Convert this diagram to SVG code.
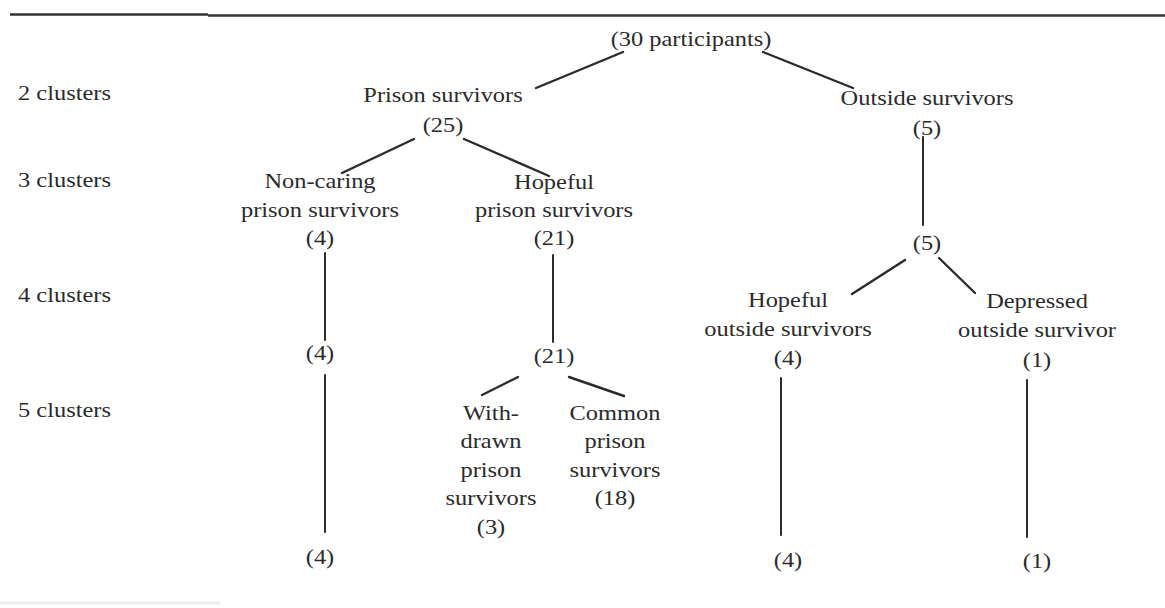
<svg xmlns="http://www.w3.org/2000/svg" width="1165" height="608" viewBox="0 0 1165 608">
<style>
  text { font-family: "Liberation Serif", "Times New Roman", serif; font-size: 22px; fill: #2b2b2b; text-anchor: middle; }
  .lbl text { text-anchor: start; }
  .edge { stroke: #2b2b2b; stroke-width: 2.4; stroke-linecap: round; fill: none; }
  .vert { stroke-width: 2; }
  .rule { stroke: #333333; stroke-width: 2.6; }
</style>
<rect width="1165" height="608" fill="#ffffff"/>
<g id="rules">
  <line class="rule" x1="10" y1="14.5" x2="208" y2="14.5"/>
  <line class="rule" x1="208" y1="15.5" x2="1165" y2="15.5"/>
  <line x1="0" y1="603" x2="220" y2="603" stroke="#ececec" stroke-width="3"/>
</g>
<g id="level-labels" class="lbl">
  <text transform="translate(18 0) scale(1.11 1)" y="100">2 clusters</text>
  <text transform="translate(18 0) scale(1.11 1)" y="187">3 clusters</text>
  <text transform="translate(18 0) scale(1.11 1)" y="302">4 clusters</text>
  <text transform="translate(18 0) scale(1.11 1)" y="417">5 clusters</text>
</g>
<g id="connectors">
  <line class="edge" x1="623" y1="52" x2="536" y2="88"/>
  <line class="edge" x1="763" y1="52" x2="853" y2="88"/>
  <line class="edge" x1="414" y1="139" x2="342" y2="173"/>
  <line class="edge" x1="464" y1="139" x2="549" y2="176"/>
  <line class="edge vert" x1="923" y1="137" x2="923" y2="225"/>
  <line class="edge vert" x1="325" y1="253" x2="325" y2="340"/>
  <line class="edge vert" x1="553" y1="255" x2="553" y2="342"/>
  <line class="edge" x1="905" y1="260" x2="852" y2="294"/>
  <line class="edge" x1="939" y1="258" x2="975" y2="293"/>
  <line class="edge vert" x1="325" y1="375" x2="325" y2="532"/>
  <line class="edge" x1="518" y1="377" x2="482" y2="395"/>
  <line class="edge" x1="569" y1="377" x2="624" y2="396"/>
  <line class="edge vert" x1="781" y1="378" x2="781" y2="535"/>
  <line class="edge vert" x1="1027" y1="380" x2="1027" y2="537"/>
</g>
<g id="root" transform="translate(691 0) scale(1.11 1)">
  <text y="46">(30 participants)</text>
</g>
<g id="prison-survivors" transform="translate(443 0) scale(1.11 1)">
  <text y="102">Prison survivors</text>
  <text y="132">(25)</text>
</g>
<g id="outside-survivors" transform="translate(927 0) scale(1.11 1)">
  <text y="105">Outside survivors</text>
  <text y="135">(5)</text>
</g>
<g id="non-caring" transform="translate(320 0) scale(1.11 1)">
  <text y="188">Non-caring</text>
  <text y="217">prison survivors</text>
  <text y="245">(4)</text>
</g>
<g id="hopeful-prison" transform="translate(554 0) scale(1.11 1)">
  <text y="189">Hopeful</text>
  <text y="217">prison survivors</text>
  <text y="245">(21)</text>
</g>
<g id="outside-3" transform="translate(927 0) scale(1.11 1)">
  <text y="250">(5)</text>
</g>
<g id="non-caring-4" transform="translate(320 0) scale(1.11 1)">
  <text y="360">(4)</text>
</g>
<g id="hopeful-prison-4" transform="translate(554 0) scale(1.11 1)">
  <text y="363">(21)</text>
</g>
<g id="hopeful-outside" transform="translate(788 0) scale(1.11 1)">
  <text y="307">Hopeful</text>
  <text y="336">outside survivors</text>
  <text y="365">(4)</text>
</g>
<g id="depressed-outside" transform="translate(1037 0) scale(1.11 1)">
  <text y="308">Depressed</text>
  <text y="337">outside survivor</text>
  <text y="367">(1)</text>
</g>
<g id="withdrawn-prison" transform="translate(491 0) scale(1.11 1)">
  <text y="420">With-</text>
  <text y="448.5">drawn</text>
  <text y="477">prison</text>
  <text y="505.5">survivors</text>
  <text y="534">(3)</text>
</g>
<g id="common-prison" transform="translate(615 0) scale(1.11 1)">
  <text y="420">Common</text>
  <text y="448.5">prison</text>
  <text y="477">survivors</text>
  <text y="505.5">(18)</text>
</g>
<g id="non-caring-5" transform="translate(320 0) scale(1.11 1)">
  <text y="564">(4)</text>
</g>
<g id="hopeful-outside-5" transform="translate(788 0) scale(1.11 1)">
  <text y="567">(4)</text>
</g>
<g id="depressed-outside-5" transform="translate(1037 0) scale(1.11 1)">
  <text y="568">(1)</text>
</g>
</svg>
